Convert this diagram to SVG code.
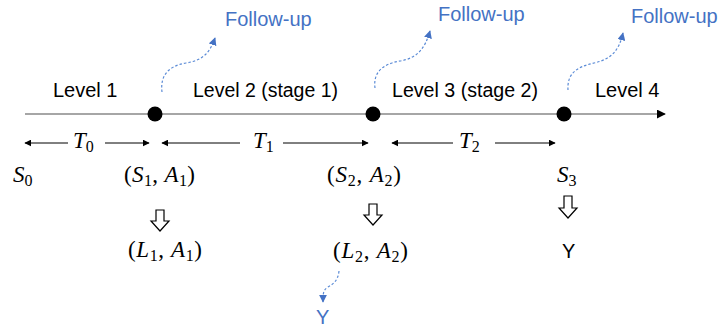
<svg xmlns="http://www.w3.org/2000/svg" width="721" height="329" viewBox="0 0 721 329">
<defs>
<marker id="ah" viewBox="0 0 10 10" refX="9" refY="5" markerWidth="7" markerHeight="7" markerUnits="userSpaceOnUse" orient="auto"><path d="M0,0 L10,5 L0,10 z" fill="#000"/></marker>
<marker id="ahMain" viewBox="0 0 10 10" refX="9" refY="5" markerWidth="9" markerHeight="9" markerUnits="userSpaceOnUse" orient="auto"><path d="M0,0 L10,5 L0,10 z" fill="#000"/></marker>
<marker id="ahBlue" viewBox="0 0 10 10" refX="9" refY="5" markerWidth="8" markerHeight="8" markerUnits="userSpaceOnUse" orient="auto"><path d="M0,0 L10,5 L0,10 z" fill="#4472C4"/></marker>
<style>
.lbl{font-family:"Liberation Sans",Arial,sans-serif;font-size:20px;fill:#000}
.fu{font-family:"Liberation Sans",Arial,sans-serif;font-size:20px;fill:#4472C4}
.m{font-family:"Liberation Serif","Times New Roman",serif;font-size:23px;fill:#000}
.i{font-style:italic}
.sub{font-size:16px}
.dash{fill:none;stroke:#5B8BD6;stroke-width:1.2;stroke-dasharray:2.5 2;marker-end:url(#ahBlue)}
.tarr{stroke:#000;stroke-width:1;fill:none;marker-end:url(#ah)}
.hollow{fill:#fff;stroke:#000;stroke-width:1.2}
</style>
</defs>
<g id="connectors">
<line x1="25" y1="114" x2="665" y2="114" stroke="#A6A6A6" stroke-width="2" marker-end="url(#ahMain)"/>
<path class="dash" d="M162,92 C160,76 168,66 186,63 C204,60 210,52 215,38"/>
<path class="dash" d="M375,88 C373,73 382,64 400,61 C418,58 425,48 430,31"/>
<path class="dash" d="M568,90 C567,74 576,67 594,63 C612,59 619,50 623,33"/>
<path class="dash" d="M339,271 C338,281 333,284 328,287 C323,290 323,294 323,302"/>
<line class="tarr" x1="68" y1="143" x2="25" y2="143"/>
<line class="tarr" x1="105" y1="143" x2="149" y2="143"/>
<line class="tarr" x1="240" y1="143" x2="162" y2="143"/>
<line class="tarr" x1="283" y1="143" x2="368" y2="143"/>
<line class="tarr" x1="453" y1="143" x2="392" y2="143"/>
<line class="tarr" x1="495" y1="143" x2="555" y2="143"/>
<polygon class="hollow" points="156,210 164,210 164,221 169,221 160,231 151,221 156,221"/>
<polygon class="hollow" points="369,204 377,204 377,215 382,215 373,225 364,215 369,215"/>
<polygon class="hollow" points="564,196 572,196 572,208 577,208 568,218 559,208 564,208"/>
</g>
<g id="timepoint1"><circle cx="155" cy="114" r="7.5" fill="#000"/></g>
<g id="timepoint2"><circle cx="373" cy="114" r="7.5" fill="#000"/></g>
<g id="timepoint3"><circle cx="564" cy="114" r="7.5" fill="#000"/></g>
<g id="levels">
<text class="lbl" x="53" y="97">Level 1</text>
<text class="lbl" x="193" y="97" textLength="145" lengthAdjust="spacingAndGlyphs">Level 2 (stage 1)</text>
<text class="lbl" x="392" y="97" textLength="146" lengthAdjust="spacingAndGlyphs">Level 3 (stage 2)</text>
<text class="lbl" x="595" y="97">Level 4</text>
</g>
<g id="followups">
<text class="fu" x="225" y="26">Follow-up</text>
<text class="fu" x="438" y="21">Follow-up</text>
<text class="fu" x="631" y="23">Follow-up</text>
<text class="fu" x="316" y="324">Y</text>
</g>
<g id="intervals">
<text class="m" x="73" y="148"><tspan class="i">T</tspan><tspan class="sub" dy="4">0</tspan></text>
<text class="m" x="253" y="148"><tspan class="i">T</tspan><tspan class="sub" dy="4">1</tspan></text>
<text class="m" x="459" y="148"><tspan class="i">T</tspan><tspan class="sub" dy="4">2</tspan></text>
</g>
<g id="states">
<text class="m" x="13" y="182"><tspan class="i">S</tspan><tspan class="sub" dy="4">0</tspan></text>
<text class="m" x="124" y="182" textLength="71" lengthAdjust="spacing">(<tspan class="i">S</tspan><tspan class="sub" dy="4">1</tspan><tspan dy="-4">, </tspan><tspan class="i">A</tspan><tspan class="sub" dy="4">1</tspan><tspan dy="-4">)</tspan></text>
<text class="m" x="327" y="182" textLength="74" lengthAdjust="spacing">(<tspan class="i">S</tspan><tspan class="sub" dy="4">2</tspan><tspan dy="-4">, </tspan><tspan class="i">A</tspan><tspan class="sub" dy="4">2</tspan><tspan dy="-4">)</tspan></text>
<text class="m" x="557" y="182"><tspan class="i">S</tspan><tspan class="sub" dy="4">3</tspan></text>
</g>
<g id="outcomes">
<text class="m" x="128" y="257" textLength="74" lengthAdjust="spacing">(<tspan class="i">L</tspan><tspan class="sub" dy="4">1</tspan><tspan dy="-4">, </tspan><tspan class="i">A</tspan><tspan class="sub" dy="4">1</tspan><tspan dy="-4">)</tspan></text>
<text class="m" x="333" y="258" textLength="75" lengthAdjust="spacing">(<tspan class="i">L</tspan><tspan class="sub" dy="4">2</tspan><tspan dy="-4">, </tspan><tspan class="i">A</tspan><tspan class="sub" dy="4">2</tspan><tspan dy="-4">)</tspan></text>
<text class="lbl" x="562" y="258">Y</text>
</g>
</svg>
